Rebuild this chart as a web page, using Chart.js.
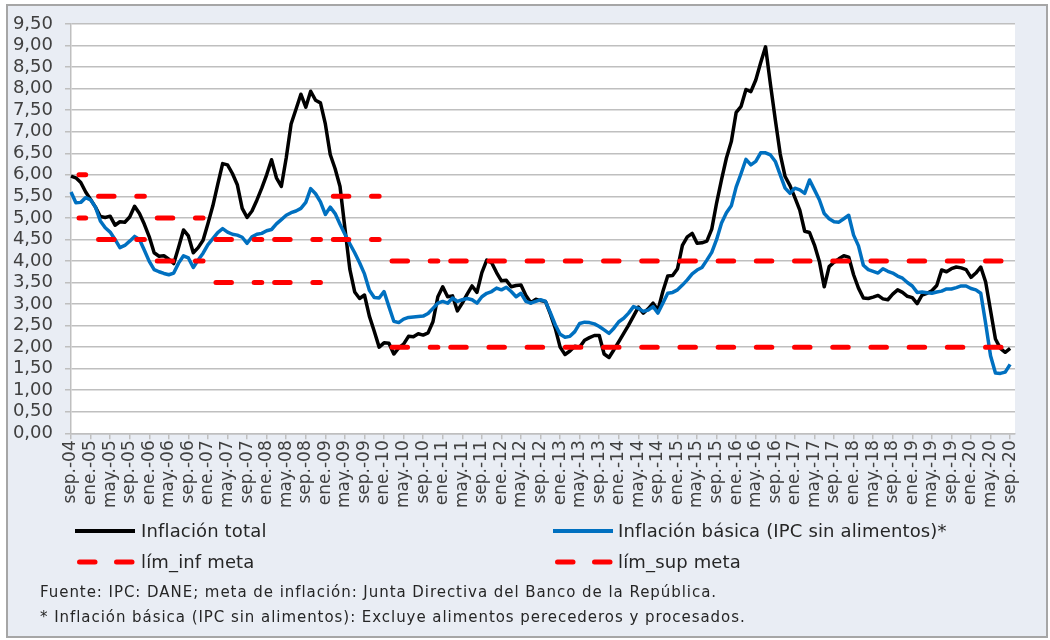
<!DOCTYPE html>
<html><head><meta charset="utf-8">
<script src="https://cdn.jsdelivr.net/npm/chart.js@4.4.0/dist/chart.umd.min.js"></script>
<style>
html,body{margin:0;padding:0;background:#fff;}
#wrap{position:relative;width:1050px;height:640px;overflow:hidden;}
#frame{position:absolute;left:6px;top:4px;width:1042px;height:634px;background:#E9EDF4;border:2px solid #A6A6A6;box-sizing:border-box;}
#c{position:absolute;left:0;top:0;}
.lg{position:absolute;font-family:'DejaVu Sans';font-size:18px;letter-spacing:0.15px;color:#262626;line-height:20px;white-space:nowrap;}
.fn{position:absolute;font-family:'DejaVu Sans';font-size:15px;letter-spacing:0.95px;color:#262626;white-space:nowrap;line-height:18px;}
#lgsvg{position:absolute;left:0;top:0;}
</style></head>
<body>
<div id="wrap">
<div id="frame"></div>
<canvas id="c" width="1050" height="640"></canvas>
<svg id="lgsvg" width="1050" height="640">
  <line x1="75" y1="531" x2="135" y2="531" stroke="#000" stroke-width="4"/>
  <line x1="553" y1="531" x2="613" y2="531" stroke="#0070C0" stroke-width="4"/>
  <line x1="79.5" y1="562" x2="95" y2="562" stroke="#FF0000" stroke-width="5" stroke-linecap="round"/>
  <line x1="116.5" y1="562" x2="132" y2="562" stroke="#FF0000" stroke-width="5" stroke-linecap="round"/>
  <line x1="557.5" y1="562" x2="573" y2="562" stroke="#FF0000" stroke-width="5" stroke-linecap="round"/>
  <line x1="594.5" y1="562" x2="610" y2="562" stroke="#FF0000" stroke-width="5" stroke-linecap="round"/>
</svg>
<div class="lg" style="left:141px;top:521px;">Inflación total</div>
<div class="lg" style="left:618px;top:521px;">Inflación básica (IPC sin alimentos)*</div>
<div class="lg" style="left:141px;top:552px;">lím_inf meta</div>
<div class="lg" style="left:618px;top:552px;">lím_sup meta</div>
<div class="fn" style="left:40px;top:583px;">Fuente: IPC: DANE; meta de inflación: Junta Directiva del Banco de la República.</div>
<div class="fn" style="left:40px;top:608px;">* Inflación básica (IPC sin alimentos): Excluye alimentos perecederos y procesados.</div>
</div>
<script>
// ---- categories (monthly, sep-04 .. sep-20, plus one empty slot at the axis end) ----
const monthAbbr = ['ene.','feb.','mar.','abr.','may.','jun.','jul.','ago.','sep.','oct.','nov.','dic.'];
const nMonths = 194;
const labels = [];
for (let k = 0; k < nMonths; k++) {
  const m = (8 + k) % 12;
  const yy = 4 + Math.floor((8 + k) / 12);
  labels.push(monthAbbr[m] + '-' + String(yy).padStart(2, '0'));
}

// ---- Inflación total (annual %, monthly) ----
const inflacionTotal = [
 5.97,5.93,5.82,5.60,
 5.43,5.25,5.03,5.01,5.04,4.83,4.91,4.90,5.02,5.27,5.10,4.85,
 4.56,4.19,4.11,4.12,4.04,3.94,4.32,4.72,4.58,4.19,4.31,4.48,
 4.87,5.28,5.78,6.26,6.23,6.03,5.77,5.22,5.01,5.16,5.41,5.69,
 6.00,6.35,5.93,5.73,6.39,7.18,7.52,7.87,7.57,7.94,7.73,7.67,
 7.18,6.47,6.14,5.73,4.76,3.81,3.28,3.13,3.21,2.72,2.37,2.00,
 2.10,2.09,1.84,1.98,2.07,2.25,2.24,2.31,2.28,2.33,2.59,3.17,
 3.40,3.17,3.19,2.84,3.02,3.23,3.42,3.27,3.73,4.02,3.96,3.73,
 3.54,3.55,3.40,3.43,3.44,3.20,3.03,3.11,3.08,3.06,2.77,2.44,
 2.00,1.83,1.91,2.02,2.00,2.16,2.22,2.27,2.27,1.84,1.76,1.94,
 2.13,2.32,2.51,2.72,2.93,2.79,2.89,3.02,2.86,3.29,3.65,3.66,
 3.82,4.36,4.56,4.64,4.41,4.42,4.46,4.74,5.35,5.89,6.39,6.77,
 7.45,7.59,7.98,7.93,8.20,8.60,8.97,8.10,7.27,6.48,5.96,5.75,
 5.47,5.18,4.69,4.66,4.37,3.99,3.40,3.87,3.97,4.05,4.12,4.09,
 3.68,3.37,3.14,3.13,3.16,3.20,3.12,3.10,3.23,3.33,3.27,3.18,
 3.15,3.01,3.21,3.25,3.31,3.43,3.79,3.75,3.82,3.86,3.84,3.80,
 3.62,3.72,3.86,3.51,2.85,2.19,1.97,1.88,1.97
];

// ---- Inflación básica (IPC sin alimentos) ----
const inflacionBasica = [
 5.60,5.35,5.36,5.47,
 5.42,5.25,4.93,4.77,4.67,4.50,4.31,4.36,4.46,4.57,4.50,4.25,
 3.99,3.80,3.75,3.71,3.68,3.72,3.95,4.12,4.07,3.85,4.02,4.18,
 4.38,4.52,4.66,4.75,4.67,4.62,4.60,4.55,4.41,4.56,4.62,4.64,
 4.70,4.73,4.86,4.96,5.06,5.12,5.16,5.22,5.36,5.68,5.56,5.37,
 5.08,5.25,5.10,4.85,4.62,4.40,4.19,3.96,3.70,3.32,3.15,3.14,
 3.29,2.94,2.60,2.57,2.65,2.69,2.70,2.71,2.72,2.78,2.90,3.02,
 3.06,3.02,3.14,3.06,3.10,3.13,3.10,3.02,3.17,3.25,3.29,3.37,
 3.33,3.39,3.29,3.17,3.25,3.06,3.02,3.06,3.10,3.06,2.80,2.52,
 2.30,2.23,2.25,2.36,2.55,2.58,2.57,2.54,2.48,2.40,2.32,2.44,
 2.59,2.67,2.79,2.94,2.90,2.83,2.86,2.94,2.79,3.02,3.25,3.27,
 3.33,3.44,3.56,3.70,3.79,3.85,4.02,4.20,4.50,4.88,5.12,5.28,
 5.72,6.03,6.36,6.23,6.31,6.51,6.51,6.46,6.31,6.00,5.69,5.57,
 5.69,5.65,5.57,5.88,5.65,5.42,5.10,4.98,4.91,4.90,4.98,5.06,
 4.60,4.35,3.90,3.80,3.76,3.72,3.82,3.76,3.72,3.65,3.60,3.50,
 3.42,3.27,3.28,3.26,3.25,3.28,3.30,3.35,3.35,3.38,3.42,3.42,
 3.36,3.33,3.25,2.55,1.80,1.40,1.39,1.42,1.60
];

// ---- Meta de inflación por año (rango) ----
const metaYears    = [2004,2005,2006,2007,2008,2009,2010,2011,2012,2013,2014,2015,2016,2017,2018,2019,2020];
const limInfByYear = [5.0, 4.5, 4.0, 3.5, 3.5, 4.5, 2.0, 2.0, 2.0, 2.0, 2.0, 2.0, 2.0, 2.0, 2.0, 2.0, 2.0];
const limSupByYear = [6.0, 5.5, 5.0, 4.5, 4.5, 5.5, 4.0, 4.0, 4.0, 4.0, 4.0, 4.0, 4.0, 4.0, 4.0, 4.0, 4.0];

// ---- y-axis tick values ----
const yTickMin = 0, yTickMax = 9.5, yTickStep = 0.5;

const nData = inflacionTotal.length; // 193 months with data
function yearOf(k){ return 2004 + Math.floor((8 + k) / 12); }
const limInf = [], limSup = [];
for (let k = 0; k < nMonths; k++) {
  if (k >= nData) { limInf.push(null); limSup.push(null); continue; }
  const yi = metaYears.indexOf(yearOf(k));
  limInf.push(limInfByYear[yi]);
  limSup.push(limSupByYear[yi]);
}
const totalData = inflacionTotal.concat([null]);
const basicaData = inflacionBasica.concat([null]);

// the dashed target lines restart at each year up to 2011
const breakIdx = [];
for (let y = 2005; y <= 2011; y++) breakIdx.push(4 + 12 * (y - 2005));
const breakSeg = ctx => breakIdx.includes(ctx.p1DataIndex) ? 'rgba(0,0,0,0)' : undefined;

const bgPlugin = {
  id: 'plotBg',
  beforeDraw(chart) {
    const {ctx, chartArea: a} = chart;
    ctx.save();
    ctx.fillStyle = '#FFFFFF';
    ctx.fillRect(a.left, a.top, a.right - a.left, a.bottom - a.top);
    ctx.restore();
  }
};

const gridCol = '#BFBFBF';
new Chart(document.getElementById('c'), {
  type: 'line',
  data: {
    labels: labels,
    datasets: [
      {label: 'Inflación total', data: totalData, borderColor: '#000000', borderWidth: 3.5,
       pointRadius: 0, tension: 0, borderJoinStyle: 'round', order: 4},
      {label: 'Inflación básica (IPC sin alimentos)*', data: basicaData, borderColor: '#0070C0', borderWidth: 3.5,
       pointRadius: 0, tension: 0, borderJoinStyle: 'round', order: 3},
      {label: 'lím_inf meta', data: limInf, borderColor: '#FF0000', borderWidth: 5,
       borderDash: [15.5, 22.7], borderDashOffset: -8, borderCapStyle: 'round',
       pointRadius: 0, tension: 0, order: 2, segment: {borderColor: breakSeg}},
      {label: 'lím_sup meta', data: limSup, borderColor: '#FF0000', borderWidth: 5,
       borderDash: [15.5, 22.7], borderDashOffset: -8, borderCapStyle: 'round',
       pointRadius: 0, tension: 0, order: 1, segment: {borderColor: breakSeg}}
    ]
  },
  options: {
    responsive: false,
    animation: false,
    devicePixelRatio: 1,
    layout: {padding: {left: 8, top: 24, right: 35, bottom: 116.7}},
    plugins: {legend: {display: false}, tooltip: {enabled: false}},
    scales: {
      x: {
        type: 'category',
        offset: false,
        grid: {drawOnChartArea: false, drawTicks: true, tickLength: 6, color: gridCol, lineWidth: 1.5},
        border: {display: true, color: gridCol, width: 1.5},
        ticks: {
          autoSkip: false, maxRotation: 90, minRotation: 90, padding: 1,
          color: '#404040', font: {family: 'DejaVu Sans', size: 17},
          callback: (v, i) => (i % 4 === 0 && i < nData) ? labels[i] : null
        },
        afterFit: s => { s.height = 90; }
      },
      y: {
        min: yTickMin, max: yTickMax,
        ticks: {stepSize: yTickStep, autoSkip: false, padding: 12, color: '#404040',
                font: {family: 'DejaVu Sans', size: 18, lineHeight: 1},
                callback: v => Number(v).toFixed(2).replace('.', ',')},
        grid: {color: gridCol, lineWidth: 1.5, tickLength: 6},
        border: {display: true, color: gridCol, width: 1.5},
        afterFit: s => { s.width = 63; }
      }
    }
  },
  plugins: [bgPlugin]
});
</script>
</body></html>
